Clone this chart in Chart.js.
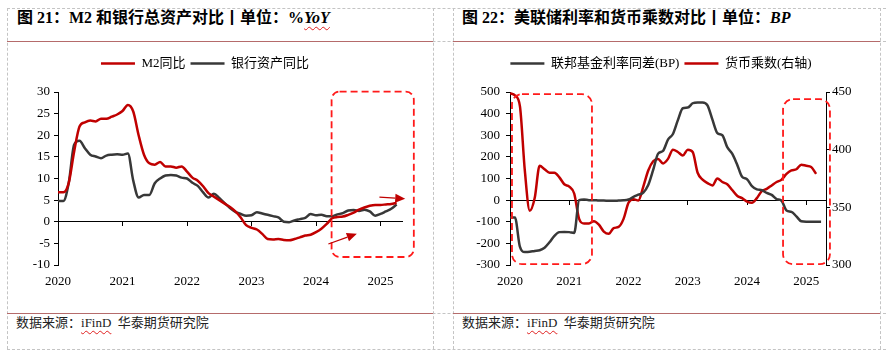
<!DOCTYPE html>
<html><head><meta charset="utf-8">
<script src="https://cdn.jsdelivr.net/npm/chart.js@4.4.1/dist/chart.umd.min.js"></script>
<style>
html,body{margin:0;padding:0;background:#fff;}
#page{position:relative;width:886px;height:357px;overflow:hidden;font-family:"Liberation Serif","Noto Sans CJK SC",serif;}
.hd{position:absolute;height:0;border-top:1px dashed #c4c4c4;}
.vd{position:absolute;top:8px;height:341px;width:0;border-left:1px dashed #c4c4c4;}
.rule{position:absolute;height:0;border-top:1.5px solid #b56b6b;}
.title{position:absolute;top:9px;font-size:16px;font-weight:bold;line-height:18px;white-space:nowrap;color:#000;}
.src{position:absolute;top:315px;font-size:13px;line-height:16px;white-space:nowrap;color:#222;}
.wavy{text-decoration:underline wavy #e02020;text-decoration-thickness:1px;text-underline-offset:3px;}
.box{position:absolute;}
</style></head>
<body>
<div id="page">
  <div class="hd" style="left:7px;width:879px;top:8px"></div>
  <div class="hd" style="left:7px;width:879px;top:41px"></div>
  <div class="hd" style="left:7px;width:879px;top:313px"></div>
  <div class="hd" style="left:7px;width:879px;top:349px"></div>
  <div class="vd" style="left:7px"></div>
  <div class="vd" style="left:433px"></div>
  <div class="vd" style="left:453px"></div>
  <div class="vd" style="left:880px"></div>
  <div class="rule" style="left:7px;width:426px;top:41px"></div>
  <div class="rule" style="left:453px;width:427px;top:41px"></div>
  <div class="rule" style="left:7px;width:426px;top:313px"></div>
  <div class="rule" style="left:453px;width:427px;top:313px"></div>

  <div class="title" style="left:17px">图 21：M2 和银行总资产对比丨单位：%<i class="wavy">YoY</i></div>
  <div class="title" style="left:462px">图 22：美联储利率和货币乘数对比丨单位：<i>BP</i></div>
  <div class="src" style="left:16px">数据来源：<span class="wavy">iFinD</span>&nbsp;&nbsp;华泰期货研究院</div>
  <div class="src" style="left:462px">数据来源：<span class="wavy">iFinD</span>&nbsp;&nbsp;华泰期货研究院</div>

  <div class="box" style="left:8px;top:44px;width:424px;height:250px"><canvas id="c1"></canvas></div>
  <div class="box" style="left:446px;top:44px;width:430px;height:250px"><canvas id="c2"></canvas></div>
</div>
<script>
// Monthly categories Jan 2020 .. May 2025
const months = ['2020-01','2020-02','2020-03','2020-04','2020-05','2020-06','2020-07','2020-08','2020-09','2020-10','2020-11','2020-12',
'2021-01','2021-02','2021-03','2021-04','2021-05','2021-06','2021-07','2021-08','2021-09','2021-10','2021-11','2021-12',
'2022-01','2022-02','2022-03','2022-04','2022-05','2022-06','2022-07','2022-08','2022-09','2022-10','2022-11','2022-12',
'2023-01','2023-02','2023-03','2023-04','2023-05','2023-06','2023-07','2023-08','2023-09','2023-10','2023-11','2023-12',
'2024-01','2024-02','2024-03','2024-04','2024-05','2024-06','2024-07','2024-08','2024-09','2024-10','2024-11','2024-12',
'2025-01','2025-02','2025-03','2025-04','2025-05'];
const yearLabels = ['2020','2021','2022','2023','2024','2025'];

// Figure 21 (%, YoY)
const m2Yoy = [6.8,6.8,9.0,16.2,22.0,23.0,23.4,23.2,23.8,23.8,24.3,24.8,
25.6,27.0,25.5,20.0,15.5,13.5,13.2,13.8,12.8,12.8,12.5,12.8,
11.6,10.2,9.5,8.2,6.6,5.8,5.0,4.2,3.4,2.4,1.0,-0.8,
-1.4,-1.8,-2.8,-4.0,-4.1,-4.0,-4.2,-4.3,-4.0,-3.6,-3.2,-3.0,
-2.4,-1.6,-0.5,0.8,1.1,1.2,1.6,2.1,2.8,3.3,3.7,3.9,
3.9,4.0,4.1,4.4];
const bankAssetsYoy = [4.8,4.8,9.0,17.8,18.7,17.0,15.5,15.1,14.7,15.3,15.5,15.6,
15.5,15.8,9.5,5.6,6.2,6.2,8.9,10.0,10.7,10.8,10.7,10.2,
10.0,9.0,8.3,6.8,5.6,6.5,5.5,4.3,3.2,2.3,1.8,1.4,
1.5,2.2,1.9,1.6,1.3,1.0,0.0,-0.1,0.3,0.6,0.9,1.8,
1.5,1.6,1.3,1.3,1.7,2.0,2.6,2.7,2.5,2.8,2.4,1.4,
1.8,2.4,3.0,4.0];

// Figure 22
const fedFundsDiffBP = [-80,-80,-215,-240,-239,-235,-232,-220,-195,-165,-148,-147,
-148,-152,0,3,0,0,-2,-2,-3,-3,-2,-1,
3,15,25,35,70,140,215,228,280,306,370,425,
428,448,452,452,438,372,310,300,245,215,165,108,
97,65,50,46,33,24,5,-3,-48,-54,-75,-98,
-100,-100,-100,-100];
const moneyMultiplier = [449,447,438,382,347,358,386,383,380,380,376,370,
368,362,340,336,336,338,335,329,327,332,333,340,
354,357,356,368,382,390,392,388,392,400,398,395,
400,398,380,374,371,369,375,372,370,365,360,358,
355,354,358,364,366,369,372,374,379,382,383,387,
386,385,379];

const yearTicks = [0,12,24,36,48,60];
const xMax = months.length - 1;
const toXY = arr => arr.map((v,i)=>({x:i,y:v}));

const RED = '#c00000', DARK = '#383838';
const tickFont = {family:'"Liberation Serif","Noto Sans CJK SC",serif', size:13};
const legendFont = {family:'"Liberation Serif","Noto Sans CJK SC",serif', size:13};

const annot = {
  id:'annot',
  afterDatasetsDraw(chart, args, opts){
    const ctx = chart.ctx, xs = chart.scales.x, ys = chart.scales[opts.yAxis];
    ctx.save();
    ctx.strokeStyle = '#ff1a1a'; ctx.lineWidth = 1.8; ctx.setLineDash([7,4]);
    (opts.boxes||[]).forEach(b=>{
      const x0 = xs.getPixelForValue(b.x0), x1 = xs.getPixelForValue(b.x1);
      const y0 = ys.getPixelForValue(b.y0), y1 = ys.getPixelForValue(b.y1);
      ctx.beginPath(); ctx.roundRect(x0, y0, x1-x0, y1-y0, b.r); ctx.stroke();
    });
    ctx.setLineDash([]);
    (opts.arrows||[]).forEach(a=>{
      const x0 = xs.getPixelForValue(a.x0), x1 = xs.getPixelForValue(a.x1);
      const y0 = ys.getPixelForValue(a.y0), y1 = ys.getPixelForValue(a.y1);
      const ang = Math.atan2(y1-y0, x1-x0), L = 10, W = 4.5;
      const bx = x1 - L*Math.cos(ang), by = y1 - L*Math.sin(ang);
      ctx.strokeStyle = RED; ctx.fillStyle = RED; ctx.lineWidth = 1.2;
      ctx.beginPath(); ctx.moveTo(x0,y0); ctx.lineTo(bx,by); ctx.stroke();
      ctx.beginPath(); ctx.moveTo(x1,y1);
      ctx.lineTo(bx + W*Math.sin(ang), by - W*Math.cos(ang));
      ctx.lineTo(bx - W*Math.sin(ang), by + W*Math.cos(ang));
      ctx.closePath(); ctx.fill();
    });
    ctx.restore();
  }
};

function setYearTicks(s){ s.ticks = yearTicks.map(v=>({value:v})); }

function xScales(){
  return {
    x:{type:'linear', position:{y:0}, min:0, max:xMax, afterBuildTicks:setYearTicks,
       ticks:{display:false},
       grid:{display:true, drawOnChartArea:false, drawTicks:true, tickLength:4, color:'#000', lineWidth:1},
       border:{display:true, color:'#000', width:1}},
    xb:{type:'linear', position:'bottom', min:0, max:xMax, afterBuildTicks:setYearTicks,
       ticks:{display:true, padding:9, maxRotation:0, autoSkip:false, font:tickFont, color:'#000',
              callback:(v,i)=>yearLabels[i]},
       grid:{display:false, drawTicks:false}, border:{display:false},
       afterFit:s=>{s.height=29;}}
  };
}
function legendOpts(){
  return {display:true, position:'top',
    labels:{usePointStyle:true, pointStyle:'line', pointStyleWidth:34, padding:5, font:legendFont, color:'#000'}};
}
const spacer = {display:true, text:'', weight:500, font:{size:1, lineHeight:1}, padding:{top:0,bottom:11}};
const lineStyle = {borderWidth:2.5, pointRadius:0, cubicInterpolationMode:'monotone', xAxisID:'x'};

new Chart(document.getElementById('c1'), {
  type:'line',
  data:{datasets:[
    Object.assign({label:'M2同比', data:toXY(m2Yoy), borderColor:RED, backgroundColor:RED, yAxisID:'y'}, lineStyle),
    Object.assign({label:'银行资产同比', data:toXY(bankAssetsYoy), borderColor:DARK, backgroundColor:DARK, yAxisID:'y'}, lineStyle)
  ]},
  options:{
    responsive:true, maintainAspectRatio:false, animation:false, devicePixelRatio:1,
    layout:{padding:{top:8,right:30,bottom:0,left:0}},
    plugins:{legend:legendOpts(), title:spacer, tooltip:{enabled:false},
      annot:{yAxis:'y',
        boxes:[{x0:50.9,x1:66.2,y0:30.1,y1:-8.15,r:8}],
        arrows:[{x0:50.3,y0:-5.15,x1:55.6,y1:-2.77},{x0:59.8,y0:5.7,x1:64.6,y1:5.3}]}},
    scales:Object.assign(xScales(), {
      y:{position:'left', min:-10, max:30,
         ticks:{stepSize:5, padding:4, font:tickFont, color:'#000'},
         grid:{display:true, drawOnChartArea:false, tickLength:4, color:'#000'},
         border:{display:true,color:'#000'},
         afterFit:s=>{s.width=50;}}
    })
  },
  plugins:[annot]
});

new Chart(document.getElementById('c2'), {
  type:'line',
  data:{datasets:[
    Object.assign({label:'联邦基金利率同差(BP)', data:toXY(fedFundsDiffBP), borderColor:DARK, backgroundColor:DARK, yAxisID:'y'}, lineStyle),
    Object.assign({label:'货币乘数(右轴)', data:toXY(moneyMultiplier), borderColor:RED, backgroundColor:RED, yAxisID:'y1'}, lineStyle)
  ]},
  options:{
    responsive:true, maintainAspectRatio:false, animation:false, devicePixelRatio:1,
    layout:{padding:{top:8,right:0,bottom:0,left:0}},
    plugins:{legend:legendOpts(), title:spacer, tooltip:{enabled:false},
      annot:{yAxis:'y',
        boxes:[{x0:0.4,x1:16.6,y0:490,y1:-296,r:10},{x0:55.3,x1:64.8,y0:467,y1:-296,r:10}],
        arrows:[]}},
    scales:Object.assign(xScales(), {
      y:{position:'left', min:-300, max:500,
         ticks:{stepSize:100, padding:6, font:tickFont, color:'#000'},
         grid:{display:true, drawOnChartArea:false, tickLength:4, color:'#000'},
         border:{display:true,color:'#000'},
         afterFit:s=>{s.width=64;}},
      y1:{position:'right', min:300, max:450,
         ticks:{stepSize:50, padding:2, font:tickFont, color:'#000'},
         grid:{display:true, drawOnChartArea:false, tickLength:4, color:'#000'},
         border:{display:true,color:'#000'},
         afterFit:s=>{s.width=50;}}
    })
  },
  plugins:[annot]
});
</script>
</body></html>
